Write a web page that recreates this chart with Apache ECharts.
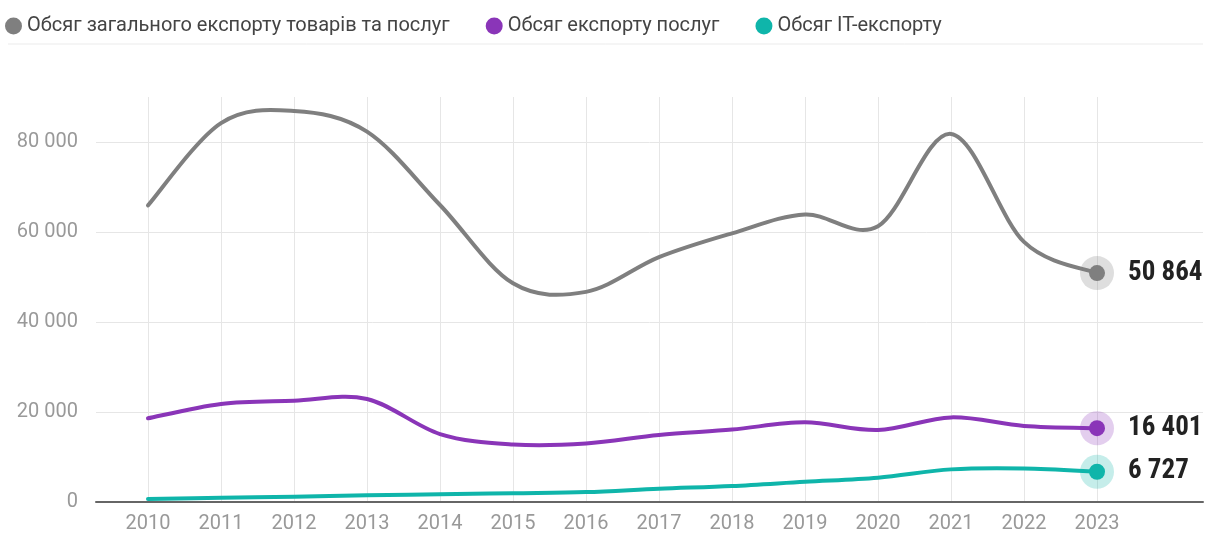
<!DOCTYPE html>
<html>
<head>
<meta charset="utf-8">
<script src="https://cdn.jsdelivr.net/npm/echarts@6/dist/echarts.min.js"></script>
<style>
html,body{margin:0;padding:0;background:#fff;}
#main{width:1207px;height:540px;}
</style>
</head>
<body>
<div id="main"></div>
<script>
const years = ['2010','2011','2012','2013','2014','2015','2016','2017','2018','2019','2020','2021','2022','2023'];
const totalExport = [65900, 84200, 86900, 82300, 66000, 48600, 46700, 54400, 59700, 63900, 61300, 81800, 57800, 50864];
const servicesExport = [18600, 21800, 22500, 22900, 15100, 12800, 13000, 14900, 16100, 17700, 16000, 18800, 16900, 16401];
const itExport = [670, 950, 1180, 1480, 1700, 1950, 2200, 2950, 3550, 4500, 5400, 7250, 7450, 6727];
const seriesNames = ['Обсяг загального експорту товарів та послуг', 'Обсяг експорту послуг', 'Обсяг IT-експорту'];
const colors = ['#7f7f7f', '#8a35b8', '#0fb5aa'];
const haloColors = ['rgba(127,127,127,0.32)', 'rgba(138,53,184,0.3)', 'rgba(15,181,170,0.3)'];

const FONT = "Roboto, 'Noto Sans', sans-serif";
const BOLDFONT = "'Roboto Condensed','Liberation Sans Narrow',Roboto,sans-serif";
const fmt = v => String(Math.round(v)).replace(/\B(?=(\d{3})+(?!\d))/g, ' ');

const chart = echarts.init(document.getElementById('main'));
const allData = [totalExport, servicesExport, itExport];

// Smooth line (uniform Catmull-Rom) drawn through the chart's own scale via api.coord
function makeRender(arr, color) {
  return function (params, api) {
    if (params.dataIndex !== 0) return null;
    const pts = arr.map((v, j) => api.coord([j, v]));
    const n = pts.length;
    let d = 'M' + pts[0][0] + ' ' + pts[0][1];
    for (let i = 0; i < n - 1; i++) {
      const p0 = pts[Math.max(i - 1, 0)], p1 = pts[i], p2 = pts[i + 1], p3 = pts[Math.min(i + 2, n - 1)];
      const c1x = p1[0] + (p2[0] - p0[0]) / 6, c1y = p1[1] + (p2[1] - p0[1]) / 6;
      const c2x = p2[0] - (p3[0] - p1[0]) / 6, c2y = p2[1] - (p3[1] - p1[1]) / 6;
      d += ' C' + c1x + ' ' + c1y + ' ' + c2x + ' ' + c2y + ' ' + p2[0] + ' ' + p2[1];
    }
    return {
      type: 'path',
      shape: {pathData: d},
      style: {fill: 'none', stroke: color, lineWidth: 4, lineCap: 'round', lineJoin: 'round'},
      silent: true
    };
  };
}

const lineSeries = allData.map((arr, i) => ({
  name: seriesNames[i],
  type: 'custom',
  xAxisIndex: 1, yAxisIndex: 1,
  z: 5,
  itemStyle: {color: colors[i]},
  renderItem: makeRender(arr, colors[i]),
  data: arr.map((v, j) => [j, v]),
  clip: false
}));
const haloSeries = allData.map((arr, i) => ({
  name: 'halo' + i,
  type: 'scatter',
  xAxisIndex: 1, yAxisIndex: 1,
  symbolSize: 34,
  z: 4,
  silent: true,
  itemStyle: {color: haloColors[i]},
  data: [[arr.length - 1, arr[arr.length - 1]]]
}));
const dotSeries = allData.map((arr, i) => ({
  name: 'dot' + i,
  type: 'scatter',
  xAxisIndex: 1, yAxisIndex: 1,
  symbolSize: 16,
  z: 6,
  silent: true,
  itemStyle: {color: colors[i], opacity: 1},
  label: {show: true, position: 'right', distance: 23, formatter: p => fmt(p.value[1]), fontFamily: BOLDFONT, fontWeight: 'bold', fontSize: 27, color: '#222', opacity: 1},
  data: [[arr.length - 1, arr[arr.length - 1]]]
}));

chart.setOption({
  animation: false,
  textStyle: {fontFamily: FONT},
  legend: {
    data: seriesNames,
    left: 0, top: 11,
    icon: 'circle', itemWidth: 17, itemHeight: 17, itemGap: 36,
    textStyle: {fontSize: 20, color: '#444', fontFamily: FONT}
  },
  graphic: [{type: 'line', shape: {x1: 8, y1: 44, x2: 1203, y2: 44}, style: {stroke: '#ebebeb', lineWidth: 1}}],
  grid: [
    {left: 96, right: 4, top: 97, bottom: 38},
    {left: 148, right: 110, top: 97, bottom: 38}
  ],
  xAxis: [
    {type: 'value', gridIndex: 0, min: 0, max: 1, axisLine: {show: true, onZero: false, lineStyle: {color: '#666', width: 2}}, axisTick: {show: false}, axisLabel: {show: false}, splitLine: {show: false}},
    {type: 'category', gridIndex: 1, boundaryGap: false, data: years,
     axisLine: {show: false}, axisTick: {show: false},
     axisLabel: {color: '#999', fontSize: 20, margin: 12, fontFamily: FONT},
     splitLine: {show: true, lineStyle: {color: '#e6e6e6', width: 1}}}
  ],
  yAxis: [
    {type: 'value', gridIndex: 0, min: 0, max: 90000, interval: 20000,
     axisLine: {show: false}, axisTick: {show: false},
     axisLabel: {color: '#999', fontSize: 20, margin: 18, showMaxLabel: false, formatter: v => fmt(v), fontFamily: FONT},
     splitLine: {show: true, showMaxLine: false, lineStyle: {color: '#e6e6e6', width: 1}}},
    {type: 'value', gridIndex: 1, min: 0, max: 90000, interval: 20000, show: false, splitLine: {show: false}}
  ],
  series: [...haloSeries, ...lineSeries, ...dotSeries]
});
</script>
</body>
</html>
